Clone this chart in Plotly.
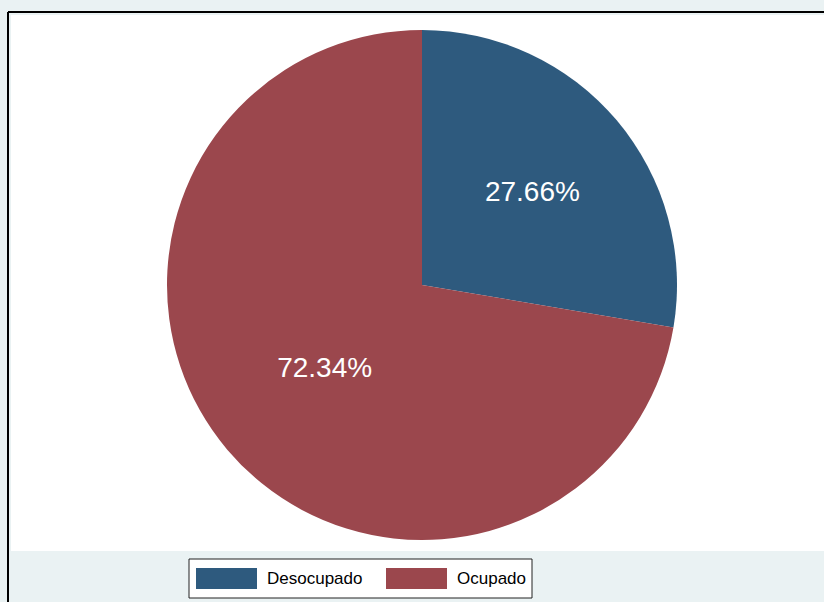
import plotly.graph_objects as go

# ---- data ----
categories = ["Desocupado", "Ocupado"]
shares = [27.66, 72.34]
colors = ["#2E5A7E", "#9B474D"]

W, H = 824, 602
cx, cy, R = 422, 285, 255  # pie centre / radius in pixels (layout only)

fig = go.Figure()
fig.add_trace(go.Pie(
    labels=categories,
    values=shares,
    sort=False,
    direction="clockwise",
    rotation=0,
    marker=dict(colors=colors, line=dict(width=0)),
    texttemplate="%{value:.2f}%",
    textposition="inside",
    insidetextorientation="horizontal",
    textfont=dict(family="Liberation Sans, Arial, sans-serif", size=28, color="white"),
    domain=dict(x=[(cx - R) / W, (cx + R) / W], y=[1 - (cy + R) / H, 1 - (cy - R) / H]),
    showlegend=False,
    hoverinfo="label+percent",
))

shapes = []
# white plot region
shapes.append(dict(type="rect", xref="paper", yref="paper", layer="below",
                   x0=11 / W, x1=1.01, y0=1 - 551 / H, y1=1 - 15 / H,
                   fillcolor="white", line=dict(width=0)))
# outer frame (left + top)
shapes.append(dict(type="line", xref="paper", yref="paper", x0=8 / W, x1=8 / W,
                   y0=-0.01, y1=1 - 12 / H, line=dict(color="black", width=2)))
shapes.append(dict(type="line", xref="paper", yref="paper", x0=8 / W, x1=1.01,
                   y0=1 - 12 / H, y1=1 - 12 / H, line=dict(color="black", width=2)))

# legend box (drawn)
lx0, lx1, ly0, ly1 = 189, 532, 559, 598
shapes.append(dict(type="rect", xref="paper", yref="paper",
                   x0=lx0 / W, x1=lx1 / W, y0=1 - ly1 / H, y1=1 - ly0 / H,
                   fillcolor="white", line=dict(color="#222222", width=1)))
annotations = []
sw_x = [196, 386]
for i, (cat, col) in enumerate(zip(categories, colors)):
    x0 = sw_x[i]
    shapes.append(dict(type="rect", xref="paper", yref="paper",
                       x0=x0 / W, x1=(x0 + 61) / W, y0=1 - 589 / H, y1=1 - 568 / H,
                       fillcolor=col, line=dict(width=0)))
    annotations.append(dict(text=cat, xref="paper", yref="paper", x=(x0 + 69) / W,
                            y=1 - 578.5 / H, xanchor="left", yanchor="middle",
                            showarrow=False,
                            font=dict(family="Liberation Sans, Arial, sans-serif",
                                      size=17, color="black")))

fig.update_layout(
    width=W, height=H,
    margin=dict(l=0, r=0, t=0, b=0),
    paper_bgcolor="#EAF2F3",
    plot_bgcolor="#EAF2F3",
    shapes=shapes,
    annotations=annotations,
)

fig.write_html(
    "out.html",
    config={"displayModeBar": False},
    post_script="document.body.style.margin='0';document.body.style.padding='0';document.body.style.overflow='hidden';",
)
